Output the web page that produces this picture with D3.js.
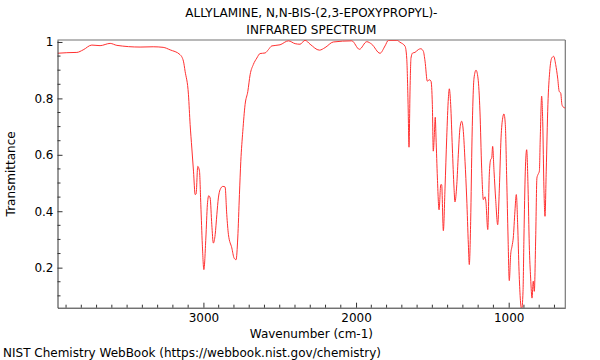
<!DOCTYPE html>
<html>
<head>
<meta charset="utf-8">
<script src="https://cdn.jsdelivr.net/npm/d3@7"></script>
<style>
  html, body { margin: 0; padding: 0; background: #fff; }
  svg { display: block; font-family: "DejaVu Sans", sans-serif; }
</style>
</head>
<body>
<svg id="chart" width="600" height="360"></svg>
<script>
const titleLines = ["ALLYLAMINE, N,N-BIS-(2,3-EPOXYPROPYL)-", "INFRARED SPECTRUM"];
const xLabel = "Wavenumber (cm-1)";
const yLabel = "Transmittance";
const footer = "NIST Chemistry WebBook (https://webbook.nist.gov/chemistry)";

const xMajorTicks = [3000, 2000, 1000];
const xMajorLabels = ["3000", "2000", "1000"];
const yMajorTicks = [0.2, 0.4, 0.6, 0.8, 1];
const yMajorLabels = ["0.2", "0.4", "0.6", "0.8", "1"];

const wavenumber = [3956,3895,3829,3788,3731,3677,3611,3567,3415,3329,3264,3218,3153,3131,3120,3098,3087,3076,3065,3054,3048,3037,3026,3017,3007,2997,2984,2974,2965,2956,2945,2935,2923,2912,2902,2891,2873,2858,2847,2836,2814,2799,2786,2775,2764,2755,2742,2727,2709,2694,2673,2650,2629,2596,2574,2552,2498,2443,2399,2367,2334,2301,2240,2203,2149,2028,1978,1930,1897,1843,1810,1788,1733,1712,1679,1668,1659,1653,1646,1640,1629,1614,1592,1576,1559,1548,1533,1520,1509,1500,1494,1487,1481,1476,1467,1456,1445,1439,1428,1417,1406,1395,1389,1380,1369,1358,1352,1340,1330,1319,1308,1297,1286,1275,1264,1258,1249,1240,1227,1214,1201,1188,1177,1166,1155,1149,1137,1127,1118,1111,1105,1096,1085,1072,1061,1050,1039,1031,1022,1013,1004,996,987,978,970,959,950,941,932,924,915,906,900,891,882,873,865,856,847,839,832,823,815,808,799,793,784,777,769,762,754,743,731,718,705,692,679,669,659,651,642,629];
const transmittance = [0.960,0.962,0.963,0.972,0.989,0.987,0.995,0.988,0.982,0.983,0.981,0.972,0.955,0.932,0.896,0.813,0.707,0.624,0.542,0.459,0.461,0.559,0.543,0.423,0.281,0.193,0.305,0.423,0.455,0.447,0.352,0.287,0.317,0.388,0.447,0.476,0.488,0.486,0.388,0.317,0.270,0.234,0.228,0.305,0.459,0.577,0.683,0.778,0.825,0.884,0.920,0.943,0.959,0.961,0.973,0.986,0.990,1.004,0.994,0.992,1.006,0.992,0.971,0.980,1.000,1.004,0.974,1.001,0.992,0.960,0.986,1.006,1.006,0.999,0.985,0.943,0.778,0.627,0.837,0.943,0.961,0.963,0.973,0.976,0.967,0.932,0.861,0.866,0.861,0.778,0.613,0.671,0.733,0.660,0.518,0.405,0.494,0.494,0.331,0.482,0.660,0.801,0.834,0.778,0.624,0.482,0.433,0.494,0.600,0.695,0.719,0.683,0.577,0.447,0.281,0.211,0.364,0.660,0.872,0.900,0.872,0.752,0.553,0.441,0.451,0.433,0.335,0.529,0.583,0.589,0.630,0.542,0.441,0.352,0.482,0.660,0.731,0.745,0.707,0.518,0.305,0.154,0.246,0.276,0.305,0.400,0.459,0.352,0.187,0.092,0.050,0.116,0.305,0.542,0.618,0.482,0.281,0.163,0.092,0.152,0.116,0.305,0.518,0.530,0.542,0.660,0.808,0.719,0.482,0.382,0.542,0.778,0.896,0.943,0.949,0.920,0.872,0.825,0.819,0.778,0.769,0.766];

const W = 600, H = 360;
const margin = { left: 57.5, right: 34.7, top: 40, bottom: 52.3 };
const pw = W - margin.left - margin.right;
const ph = H - margin.top - margin.bottom;

const svg = d3.select("#chart");
const x = d3.scaleLinear().domain([3956, 629]).range([margin.left, margin.left + pw]);
const y = d3.scaleLinear().domain([0.058, 1.007]).range([margin.top + ph, margin.top]);

svg.append("defs").append("clipPath").attr("id", "clip")
  .append("rect").attr("x", margin.left).attr("y", margin.top).attr("width", pw).attr("height", ph);

// frame: top and right
svg.append("line").attr("x1", margin.left).attr("x2", margin.left + pw)
  .attr("y1", margin.top).attr("y2", margin.top)
  .attr("stroke", "#a0a0a0").attr("stroke-width", 1.5);
svg.append("line").attr("x1", margin.left + pw).attr("x2", margin.left + pw)
  .attr("y1", margin.top).attr("y2", margin.top + ph)
  .attr("stroke", "#777").attr("stroke-width", 1.2);

// spectrum
const data = wavenumber.map((w, i) => ({ w, t: transmittance[i] }));
svg.append("path").datum(data)
  .attr("clip-path", "url(#clip)")
  .attr("fill", "none").attr("stroke", "#ff3030").attr("stroke-width", 1)
  .attr("d", d3.line().x(d => x(d.w)).y(d => y(d.t)).curve(d3.curveMonotoneX));

// x axis
const xMinor = d3.range(700, 4000, 100).filter(v => v <= 3956 && v >= 629 && !xMajorTicks.includes(v));
const xAxis = d3.axisBottom(x).tickValues(xMajorTicks).tickSizeInner(-5).tickSizeOuter(0)
  .tickPadding(6).tickFormat((d, i) => xMajorLabels[i]);
const gx = svg.append("g").attr("transform", `translate(0,${margin.top + ph})`).call(xAxis);
gx.selectAll("line.minor").data(xMinor).enter().append("line")
  .attr("class", "minor")
  .attr("x1", d => x(d)).attr("x2", d => x(d)).attr("y1", 0).attr("y2", -3)
  .attr("stroke", "#333");

// y axis
const yMinor = d3.range(0.1, 1.0, 0.05).map(v => +v.toFixed(2)).filter(v => !yMajorTicks.some(m => Math.abs(m - v) < 1e-6));
const yAxis = d3.axisLeft(y).tickValues(yMajorTicks).tickSizeInner(-5).tickSizeOuter(0)
  .tickPadding(4).tickFormat((d, i) => yMajorLabels[i]);
const gy = svg.append("g").attr("transform", `translate(${margin.left},0)`).call(yAxis);
gy.selectAll("line.minor").data(yMinor).enter().append("line")
  .attr("class", "minor")
  .attr("x1", 0).attr("x2", 3).attr("y1", d => y(d)).attr("y2", d => y(d))
  .attr("stroke", "#333");

[gx, gy].forEach(g => {
  g.select(".domain").attr("stroke", "#333");
  g.selectAll(".tick line").attr("stroke", "#333");
  g.selectAll("text").attr("font-family", "DejaVu Sans, sans-serif").attr("font-size", 12).attr("fill", "#000");
});

// titles
svg.selectAll("text.title").data(titleLines).enter().append("text")
  .attr("class", "title")
  .attr("x", margin.left + pw / 2).attr("y", (d, i) => 17 + i * 17)
  .attr("text-anchor", "middle").attr("font-size", 12).text(d => d);

svg.append("text").attr("x", margin.left + pw / 2).attr("y", 338)
  .attr("text-anchor", "middle").attr("font-size", 12).text(xLabel);

svg.append("text").attr("transform", `translate(15,${margin.top + ph / 2}) rotate(-90)`)
  .attr("text-anchor", "middle").attr("font-size", 12).text(yLabel);

svg.append("text").attr("x", 3).attr("y", 357).attr("font-size", 12).text(footer);
</script>
</body>
</html>
